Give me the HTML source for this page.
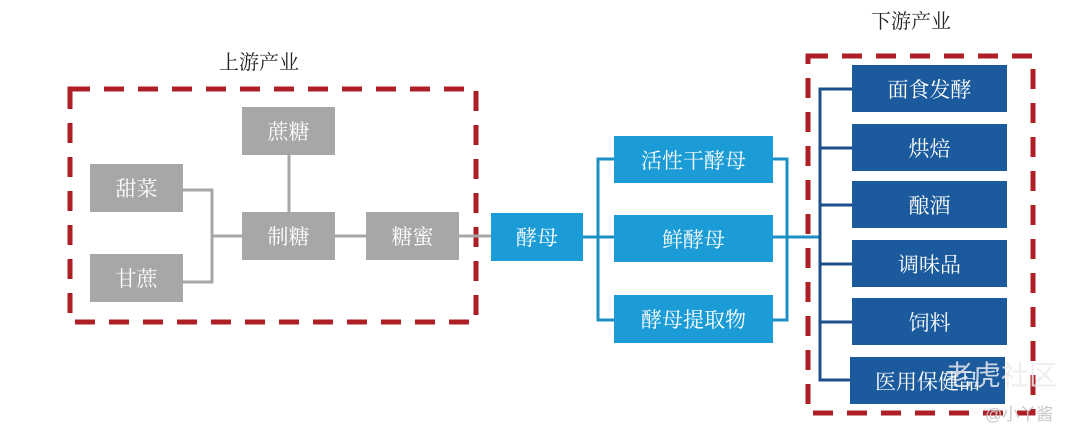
<!DOCTYPE html>
<html><head><meta charset="utf-8"><style>
body{margin:0;background:#fff;width:1080px;height:437px;overflow:hidden;position:relative;font-family:"Liberation Serif","Noto Serif CJK SC",serif}
.b{position:absolute;display:flex;align-items:center;justify-content:center;color:#fff;font-size:21px}
.g{background:#a8a7a8}.l{background:#1b9cd6}.d{background:#1b5a9c}
.t{position:absolute;font-size:20px;color:#222}
</style></head><body>
<svg width="1080" height="437" style="position:absolute;left:0;top:0">
<g fill="none" stroke="#ad1f24" stroke-width="5" stroke-dasharray="20,14">
<rect x="70" y="89" width="406" height="233"/>
<rect x="808" y="56" width="225" height="357"/>
</g>
<g stroke="#a8a7a8" stroke-width="3" fill="none">
<path d="M183 190H212V282H183M212 236H242M289 155V212M335 236H366M459 236H491"/>
</g>
<g stroke="#1b8fc4" stroke-width="3" fill="none">
<path d="M583 237H614M614 159H598V320H614M773 159H787V320H773M773 237H820"/>
</g>
<g stroke="#1b4f8a" stroke-width="3" fill="none">
<path d="M852 89H820V380H852M820 148H852M820 205H852M820 264H852M820 322H852"/>
</g>
</svg>
<div class="t" style="left:219px;top:46px">上游产业</div>
<div class="t" style="left:871px;top:5px">下游产业</div>
<div class="b g" style="left:242px;top:107px;width:93px;height:48px">蔗糖</div>
<div class="b g" style="left:90px;top:164px;width:93px;height:48px">甜菜</div>
<div class="b g" style="left:90px;top:254px;width:93px;height:48px">甘蔗</div>
<div class="b g" style="left:242px;top:212px;width:93px;height:48px">制糖</div>
<div class="b g" style="left:366px;top:212px;width:93px;height:48px">糖蜜</div>
<div class="b l" style="left:491px;top:213px;width:92px;height:48px">酵母</div>
<div class="b l" style="left:614px;top:136px;width:159px;height:47px">活性干酵母</div>
<div class="b l" style="left:614px;top:215px;width:159px;height:47px">鲜酵母</div>
<div class="b l" style="left:614px;top:295px;width:159px;height:48px">酵母提取物</div>
<div class="b d" style="left:852px;top:65px;width:155px;height:47px">面食发酵</div>
<div class="b d" style="left:852px;top:124px;width:155px;height:47px">烘焙</div>
<div class="b d" style="left:852px;top:181px;width:155px;height:47px">酿酒</div>
<div class="b d" style="left:852px;top:240px;width:155px;height:47px">调味品</div>
<div class="b d" style="left:852px;top:298px;width:155px;height:47px">饲料</div>
<div class="b d" style="left:850px;top:357px;width:155px;height:47px">医用保健品</div>
<div style="position:absolute;left:945px;top:354px;font-size:28px;color:rgba(235,235,240,.85);font-family:'Liberation Sans','Noto Sans CJK SC',sans-serif">老虎社区</div>
<div style="position:absolute;left:985px;top:400px;font-size:17px;color:#c8c8c8;font-family:'Liberation Sans','Noto Sans CJK SC',sans-serif">@小丫酱</div>
</body></html>
